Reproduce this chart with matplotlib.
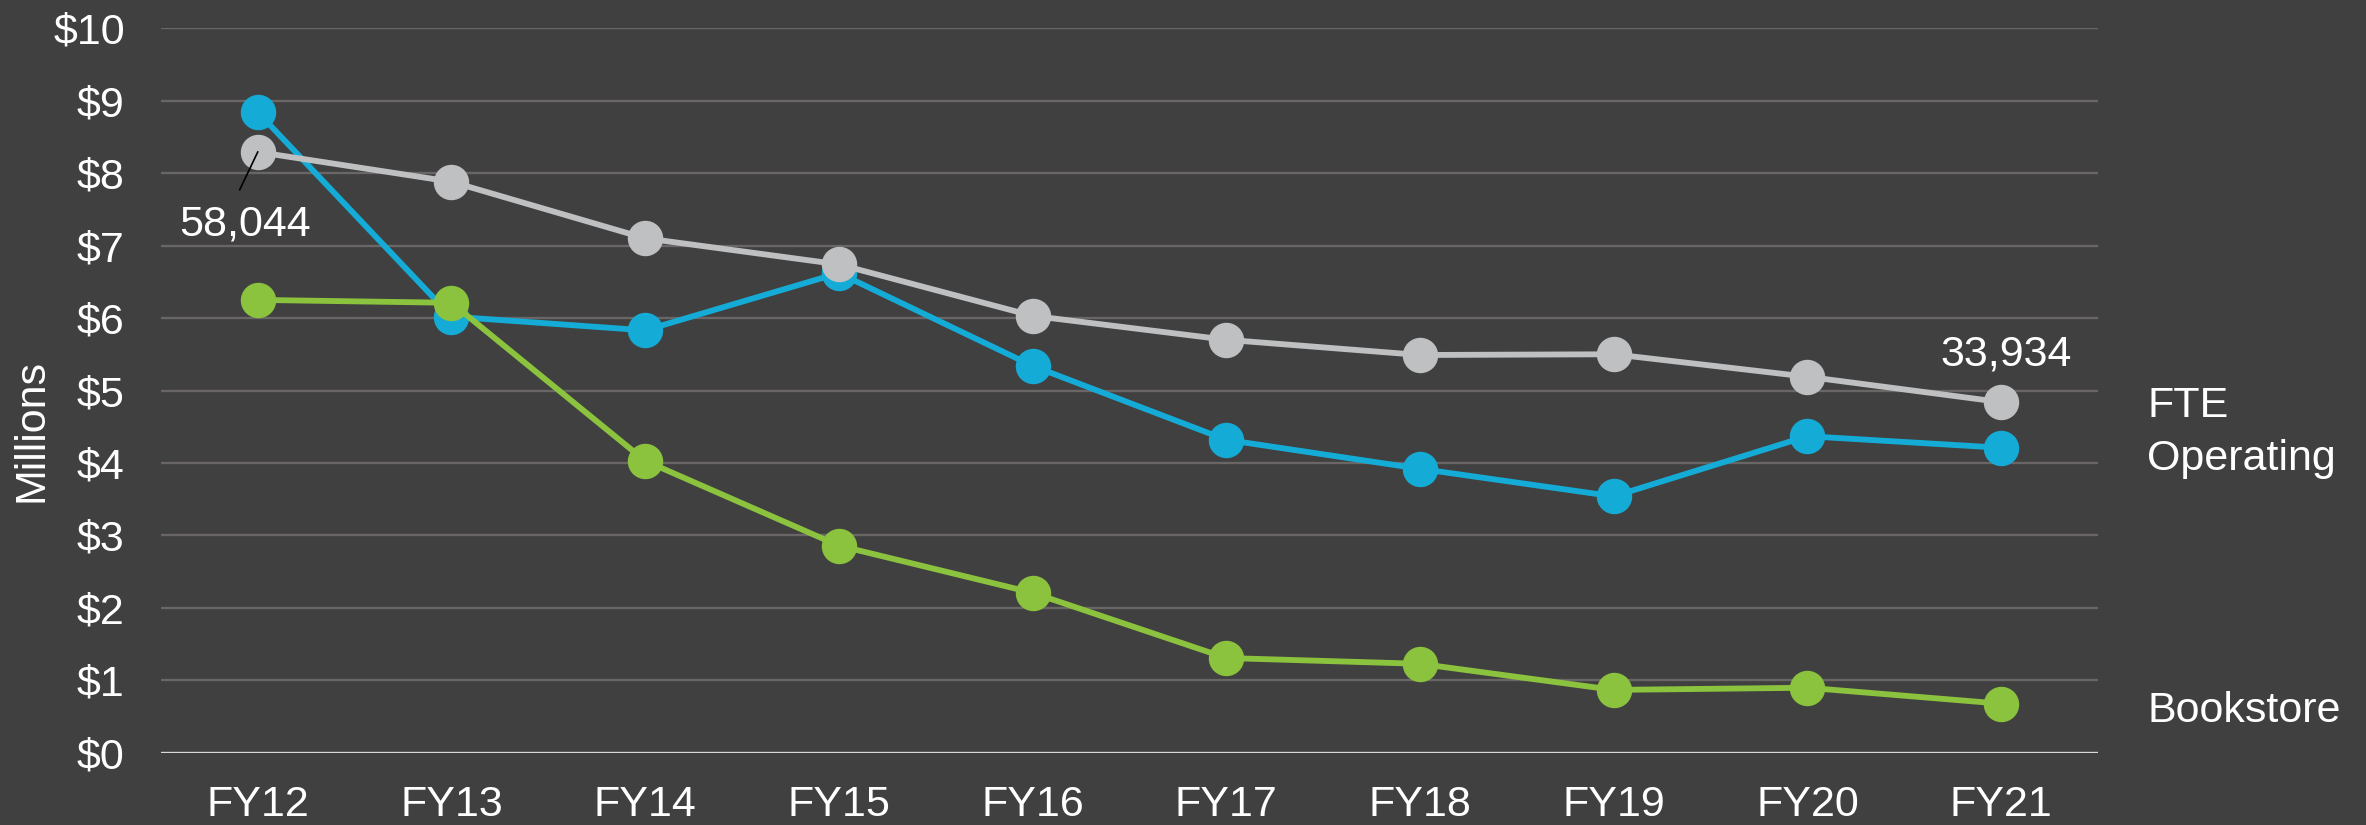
import matplotlib
matplotlib.use("Agg")
import matplotlib.pyplot as plt

years = ["FY12", "FY13", "FY14", "FY15", "FY16", "FY17", "FY18", "FY19", "FY20", "FY21"]
fte = [8.29, 7.88, 7.10, 6.74, 6.03, 5.70, 5.49, 5.50, 5.19, 4.84]
operating = [8.84, 6.02, 5.83, 6.62, 5.34, 4.32, 3.92, 3.54, 4.37, 4.21]
bookstore = [6.25, 6.21, 4.03, 2.86, 2.21, 1.31, 1.23, 0.87, 0.90, 0.68]
y_ticks = [0, 1, 2, 3, 4, 5, 6, 7, 8, 9, 10]

BG = "#404040"
BLUE = "#14acd7"
GREEN = "#8bc33e"
GRAY = "#bfc0c2"
FS = 31

plt.rcParams["font.family"] = ["Liberation Sans", "DejaVu Sans"]

fig = plt.figure(figsize=(23.66, 8.25), dpi=100, facecolor=BG)
ax = fig.add_axes([0.0680, 0.0873, 0.8187, 0.8787], facecolor=BG)

x = list(range(len(years)))
style = dict(marker="o", markersize=24.5, linewidth=4.2)
ax.plot(x, operating, color=BLUE, zorder=3, **style)
ax.plot(x, bookstore, color=GREEN, zorder=4, **style)
ax.plot(x, fte, color=GRAY, zorder=5, **style)

ax.set_xlim(-0.5, len(years) - 0.5)
ax.set_ylim(0, 10)
ax.set_xticks(x)
ax.set_xticklabels(years)
ax.set_yticks(y_ticks)
ax.set_yticklabels([f"${v}" for v in y_ticks])
ax.tick_params(axis="both", length=0, colors="white", labelsize=FS)
ax.tick_params(axis="y", pad=26)
ax.tick_params(axis="x", pad=23)

for v in y_ticks[1:]:
    ax.axhline(v, color="#6b6666", linewidth=1.7, zorder=1)
ax.axhline(0, color="#d9d9d9", linewidth=1.7, zorder=1)
for s in ax.spines.values():
    s.set_visible(False)

fig.text(32 / 2366, 1 - 431 / 825, "Millions", color="white", fontsize=FS,
         rotation=90, ha="center", va="center")

# labels on the FTE line
ax.plot([x[0], -0.093], [fte[0], 7.77], color="black", linewidth=1.2, zorder=6)
ax.text(-0.067, 7.14, "58,044", color="white", fontsize=FS, ha="center", va="baseline")
ax.text(9.024, 5.35, "33,934", color="white", fontsize=FS, ha="center", va="baseline")

# series names on the right
for label, yv in [("FTE", 4.63), ("Operating", 3.90), ("Bookstore", 0.43)]:
    ax.text(1.0255, yv, label, transform=ax.get_yaxis_transform(),
            color="white", fontsize=FS, ha="left", va="baseline")

fig.savefig("out.png", dpi=100, facecolor=BG)
